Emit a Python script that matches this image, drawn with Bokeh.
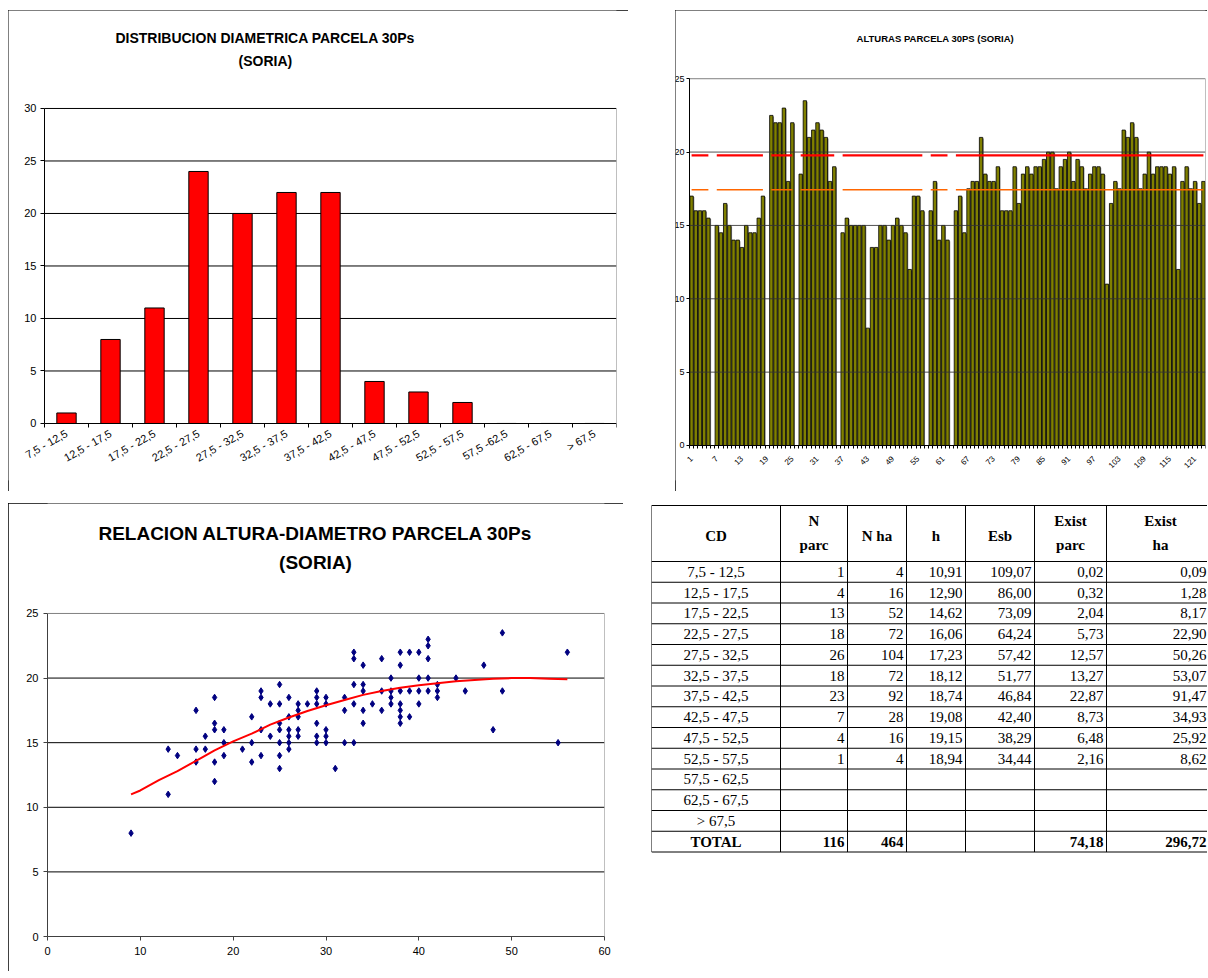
import math
from bokeh.plotting import figure
from bokeh.models import Range1d, FixedTicker, Spacer
from bokeh.layouts import row, column
from bokeh.embed import file_html
from bokeh.resources import INLINE
from bokeh.core.properties import value

# ---------------- data ----------------
dist_classes = ["7,5 - 12,5", "12,5 - 17,5", "17,5 - 22,5", "22,5 - 27,5", "27,5 - 32,5",
                "32,5 - 37,5", "37,5 - 42,5", "42,5 - 47,5", "47,5 - 52,5", "52,5 - 57,5",
                "57,5 -62,5", "62,5 - 67,5", "> 67,5"]
dist_counts = [1, 8, 11, 24, 20, 22, 22, 4, 3, 2, 0, 0, 0]

tree_heights = [17, 16, 16, 16, 15.5, 0, 15, 14.5, 16.5, 15,
                14, 14, 13.5, 15, 14.5, 14.5, 15.5, 17, 0, 22.5,
                22, 22, 23, 18, 22, 0, 18.5, 23.5, 21, 21.5,
                22, 21.5, 21, 18, 19, 0, 14.5, 15.5, 15, 15,
                15, 15, 8, 13.5, 13.5, 15, 15, 14, 15, 15.5,
                15, 14.5, 12, 17, 17, 16, 0, 16, 18, 14,
                15, 14, 0, 16, 17, 14.5, 17.5, 18, 18, 21,
                18.5, 18, 18, 19, 16, 16, 16, 19, 16.5, 18.5,
                19, 18.5, 19, 19, 19.5, 20, 20, 17.5, 19, 19.5,
                20, 18, 19.5, 19, 17.5, 18.5, 19, 19, 18.5, 11,
                16.5, 18, 17.5, 21.5, 21, 22, 21, 17.5, 18.5, 20,
                18.5, 19, 19, 19, 18.5, 19, 12, 18, 19, 17.5,
                18, 16.5, 18]
h_dominante = 19.77
h_media = 17.43
alt_tick_labels = ["1", "7", "13", "19", "25", "31", "37", "43", "49", "55", "61",
                   "67", "73", "79", "85", "91", "97", "103", "109", "115", "121"]

scatter_d = [9, 13, 13, 14, 16, 16, 16, 17, 17, 18, 18, 18, 18, 18, 19, 19, 19,
             21, 22, 22, 22, 23, 23, 23, 23, 24, 24,
             25, 25, 25, 25, 25, 25, 25, 26, 26, 26, 26, 26, 26,
             27, 27, 27, 27, 27, 28, 29, 29, 29, 29, 29, 29,
             30, 30, 30, 30, 30, 31, 32, 32, 32, 33, 33, 33, 33, 33,
             34, 34, 34, 34, 34, 35, 36, 36, 36, 37, 37, 37, 37,
             38, 38, 38, 38, 38, 38, 38, 39, 39, 39, 40, 40, 40, 40,
             41, 41, 41, 41, 41, 42, 42, 42, 44, 45, 47, 48, 49, 49, 55, 56]
scatter_h = [8, 14.5, 11, 14, 17.5, 14.5, 13.5, 15.5, 14.5, 18.5, 16.5, 16, 13.5, 12, 16, 15, 14,
             14.5, 17, 15, 13.5, 19, 18.5, 16, 14, 18, 15.5,
             19.5, 18, 16.5, 16, 15, 14, 13, 18.5, 17, 16, 15.5, 15, 14.5,
             18, 17.5, 17, 16, 15.5, 18, 19, 18.5, 18, 16.5, 15.5, 15,
             18.5, 18, 16, 15.5, 15, 13, 18.5, 17.5, 15, 22, 21.5, 19.5, 18, 15,
             21, 19.5, 19, 17.5, 16.5, 18, 21.5, 19, 17.5, 20, 19, 18.5, 18,
             22, 21, 19, 18, 17.5, 17, 16.5, 22, 19, 17, 22, 20, 19, 18,
             23, 22.5, 21.5, 20, 19, 19.5, 19, 18.5, 20, 19, 21, 16, 23.5, 19, 15, 22]

curve_d = [9, 10, 12, 14, 16, 18, 20, 22, 24, 26, 28, 30, 32, 34, 36, 38, 40, 42,
           44, 46, 48, 50, 52, 54, 56]
curve_h = [11.0, 11.3, 12.1, 12.8, 13.6, 14.4, 15.1, 15.7, 16.4, 16.95, 17.45, 17.9,
           18.3, 18.7, 19.0, 19.25, 19.45, 19.6, 19.75, 19.85, 19.95, 20.0, 20.0, 19.95, 19.9]

tbl_header1 = ["CD", "N", "N ha", "h", "Esb", "Exist", "Exist"]
tbl_header2 = ["", "parc", "", "", "", "parc", "ha"]
tbl_cd = ["7,5 - 12,5", "12,5 - 17,5", "17,5 - 22,5", "22,5 - 27,5", "27,5 - 32,5",
          "32,5 - 37,5", "37,5 - 42,5", "42,5 - 47,5", "47,5 - 52,5", "52,5 - 57,5",
          "57,5 - 62,5", "62,5 - 67,5", "> 67,5", "TOTAL"]
tbl_nparc = ["1", "4", "13", "18", "26", "18", "23", "7", "4", "1", "", "", "", "116"]
tbl_nha = ["4", "16", "52", "72", "104", "72", "92", "28", "16", "4", "", "", "", "464"]
tbl_h = ["10,91", "12,90", "14,62", "16,06", "17,23", "18,12", "18,74", "19,08", "19,15", "18,94", "", "", "", ""]
tbl_esb = ["109,07", "86,00", "73,09", "64,24", "57,42", "51,77", "46,84", "42,40", "38,29", "34,44", "", "", "", ""]
tbl_exparc = ["0,02", "0,32", "2,04", "5,73", "12,57", "13,27", "22,87", "8,73", "6,48", "2,16", "", "", "", "74,18"]
tbl_exha = ["0,09", "1,28", "8,17", "22,90", "50,26", "53,07", "91,47", "34,93", "25,92", "8,62", "", "", "", "296,72"]

title_A = ["DISTRIBUCION DIAMETRICA PARCELA 30Ps", "(SORIA)"]
title_B = ["ALTURAS PARCELA 30PS (SORIA)"]
title_C = ["RELACION ALTURA-DIAMETRO PARCELA 30Ps", "(SORIA)"]

SANS = "Liberation Sans"
SERIF = "Liberation Serif"
BORDER = {"outline": "1px solid black", "outline-offset": "-1px"}
FRAME_GRAY = "#808080"


def style_axis(ax, font_size, tick_color="black"):
    ax.axis_line_color = tick_color
    ax.major_tick_line_color = tick_color
    ax.major_label_text_font = SANS
    ax.major_label_text_font_size = font_size
    ax.major_label_text_color = "black"


# ---------------- chart A: distribucion diametrica ----------------
nA = len(dist_classes)
yA_ticks = [0, 5, 10, 15, 20, 25, 30]
yA_max = yA_ticks[-1]
pA = figure(width=620, height=481, x_range=Range1d(-0.818, nA), y_range=Range1d(-5.43, 39.33),
            output_backend="svg", toolbar_location=None,
            min_border_left=0, min_border_right=12, min_border_top=0, min_border_bottom=11)
centersA = [i + 0.5 for i in range(nA)]
gA = yA_ticks[1:]
pA.segment(x0=[0] * len(gA), x1=[nA] * len(gA), y0=gA, y1=gA, line_color="black", line_width=1)
pA.line(x=[nA, nA], y=[0, yA_max], line_color=FRAME_GRAY, line_width=1)
pA.vbar(x=centersA, top=dist_counts, width=0.44, fill_color="#FF0000",
        line_color="black", line_width=1)
pA.xaxis.fixed_location = 0
pA.xaxis.bounds = (0, nA)
pA.xaxis.ticker = FixedTicker(ticks=centersA, minor_ticks=list(range(nA + 1)))
pA.xaxis.major_label_overrides = {c: lab for c, lab in zip(centersA, dist_classes)}
pA.xaxis.major_tick_out = 0
pA.xaxis.major_tick_in = 0
pA.xaxis.minor_tick_out = 4
pA.xaxis.minor_tick_in = 0
pA.xaxis.minor_tick_line_color = "black"
pA.xaxis.major_label_orientation = 0.52
pA.xaxis.major_label_standoff = 5
pA.yaxis.fixed_location = 0
pA.yaxis.ticker = FixedTicker(ticks=yA_ticks)
pA.yaxis.bounds = (0, yA_max)
pA.yaxis.major_tick_out = 4
pA.yaxis.major_tick_in = 0
pA.yaxis.minor_tick_out = 0
pA.yaxis.major_label_standoff = 4
style_axis(pA.xaxis, "11px")
style_axis(pA.yaxis, "11px")
pA.grid.visible = False
pA.outline_line_color = None
pA.text(x=[5.02, 5.02], y=[36.67, 34.48], text=title_A, text_font=value(SANS),
        text_font_style="bold", text_font_size="14px", text_align="center",
        text_baseline="middle", text_color="black")
pA.styles = BORDER

# ---------------- chart B: alturas ----------------
nB = len(tree_heights)
yB_ticks = [0, 5, 10, 15, 20, 25]
yB_max = yB_ticks[-1]
posB = list(range(1, nB + 1))
bx = [x for x, h in zip(posB, tree_heights) if h > 0]
bh = [h for h in tree_heights if h > 0]
dom_line = [h_dominante if h > 0 else float("nan") for h in tree_heights]
med_line = [h_media if h > 0 else float("nan") for h in tree_heights]

pB = figure(width=532, height=481, x_range=Range1d(-2.837, nB + 0.5), y_range=Range1d(-2.386, 29.65),
            output_backend="svg", toolbar_location=None,
            min_border_left=0, min_border_right=2, min_border_top=0, min_border_bottom=11)
# soft grey shadow to the right of each bar (as in the spreadsheet chart)
pB.vbar(x=[x + 0.25 for x in bx], top=[h - 0.07 for h in bh], bottom=0, width=0.8,
        fill_color="#8c8c8c", line_color=None)
pB.vbar(x=bx, top=bh, width=0.8, fill_color="#808000", line_color="black", line_width=0.8)
gB = yB_ticks[1:-1]
pB.segment(x0=[0.5] * len(gB), x1=[nB + 0.5] * len(gB), y0=gB, y1=gB,
           line_color="#333333", line_width=1, line_alpha=0.85)
pB.line(x=[0.5, nB + 0.5, nB + 0.5], y=[yB_max, yB_max, 0], line_color=FRAME_GRAY, line_width=1)
pB.line(posB, dom_line, line_color="#FF0000", line_width=2.2)
pB.line(posB, med_line, line_color="#FF6600", line_width=1.6)
pB.xaxis.fixed_location = 0
pB.xaxis.bounds = (0.5, nB + 0.5)
pB.xaxis.ticker = FixedTicker(ticks=[int(t) for t in alt_tick_labels],
                              minor_ticks=[k + 0.5 for k in range(nB + 1)])
pB.xaxis.major_tick_out = 0
pB.xaxis.major_tick_in = 0
pB.xaxis.minor_tick_out = 3
pB.xaxis.minor_tick_in = 0
pB.xaxis.minor_tick_line_color = "black"
pB.xaxis.major_label_orientation = math.pi / 4
pB.xaxis.major_label_standoff = 9
pB.yaxis.fixed_location = 0.5
pB.yaxis.ticker = FixedTicker(ticks=yB_ticks)
pB.yaxis.bounds = (0, yB_max)
pB.yaxis.major_tick_out = 3
pB.yaxis.major_tick_in = 0
pB.yaxis.minor_tick_out = 0
pB.yaxis.major_label_standoff = 2
style_axis(pB.xaxis, "8px")
style_axis(pB.yaxis, "9px")
pB.grid.visible = False
pB.outline_line_color = None
pB.text(x=[59.1], y=[27.74], text=title_B, text_font=value(SANS),
        text_font_style="bold", text_font_size="9.5px", text_align="center",
        text_baseline="middle", text_color="black")
pB.styles = BORDER

# ---------------- chart C: relacion altura-diametro ----------------
yC_ticks = [0, 5, 10, 15, 20, 25]
yC_max = yC_ticks[-1]
pC = figure(width=615, height=468, x_range=Range1d(0, 60), y_range=Range1d(0, 33.51),
            output_backend="svg", toolbar_location=None,
            min_border_left=39, min_border_right=19, min_border_top=0, min_border_bottom=35)
gC = yC_ticks[1:-1]
pC.segment(x0=[0] * len(gC), x1=[60] * len(gC), y0=gC, y1=gC, line_color="black", line_width=1)
pC.line(x=[0, 60, 60], y=[yC_max, yC_max, 0], line_color=FRAME_GRAY, line_width=1)
pC.scatter(scatter_d, scatter_h, marker="diamond", size=6.5, fill_color="#000080",
           line_color="#000080")
pC.line(curve_d, curve_h, line_color="#FF0000", line_width=2)
pC.xaxis.ticker = FixedTicker(ticks=[0, 10, 20, 30, 40, 50, 60])
pC.yaxis.ticker = FixedTicker(ticks=yC_ticks)
pC.yaxis.bounds = (0, yC_max)
for ax in (pC.xaxis, pC.yaxis):
    style_axis(ax, "11px", "#404040")
    ax.major_tick_out = 4
    ax.major_tick_in = 0
    ax.minor_tick_out = 0
pC.xaxis.major_label_standoff = 6
pC.yaxis.major_label_standoff = 5
pC.grid.visible = False
pC.outline_line_color = None
pC.text(x=[28.87, 28.87], y=[31.19, 28.95], text=title_C, text_font=value(SANS),
        text_font_style="bold", text_font_size="19px", text_align="center",
        text_baseline="middle", text_color="black")
pC.styles = BORDER

# ---------------- table ----------------
X0, X1, Y0, Y1 = 651, 1207, 503, 855
col_edges = [651, 780, 847, 906, 965, 1034, 1106, 1210]
head_top, head_bot, row_h = 505, 561, 20.75
nrows = len(tbl_cd)
row_edges = [head_top, head_bot] + [head_bot + row_h * (k + 1) for k in range(nrows)]
tbl_bottom = row_edges[-1]

pD = figure(width=X1 - X0, height=(Y1 - Y0) + 35, x_range=Range1d(X0, X1), y_range=Range1d(Y1, Y0),
            output_backend="svg", toolbar_location=None,
            min_border_left=0, min_border_right=0, min_border_top=0, min_border_bottom=35)
pD.axis.visible = False
pD.grid.visible = False
pD.outline_line_color = None
pD.segment(x0=[col_edges[0]] * len(row_edges), x1=[col_edges[-1]] * len(row_edges),
           y0=row_edges, y1=row_edges, line_color="black", line_width=1)
pD.segment(x0=col_edges, x1=col_edges, y0=[head_top] * len(col_edges),
           y1=[tbl_bottom] * len(col_edges), line_color="black", line_width=1)

col_centers = [(a + b) / 2 for a, b in zip(col_edges[:-1], col_edges[1:])]
col_centers[-1] = 1160
hdr_mid = (head_top + head_bot) / 2
hx, hy, ht = [], [], []
for c, t1, t2 in zip(col_centers, tbl_header1, tbl_header2):
    if t2:
        hx += [c, c]
        hy += [hdr_mid - 13, hdr_mid + 11]
        ht += [t1, t2]
    else:
        hx.append(c)
        hy.append(hdr_mid + 2)
        ht.append(t1)
pD.text(x=hx, y=hy, text=ht, text_font=value(SERIF), text_font_style="bold",
        text_font_size="15px", text_align="center", text_baseline="middle", text_color="black")

row_mid = [head_bot + row_h * (k + 0.5) for k in range(nrows)]
pD.text(x=[col_centers[0]] * (nrows - 1), y=row_mid[:-1], text=tbl_cd[:-1],
        text_font=value(SERIF), text_font_size="15px", text_align="center",
        text_baseline="middle", text_color="black")
pD.text(x=[col_centers[0]], y=row_mid[-1:], text=tbl_cd[-1:],
        text_font=value(SERIF), text_font_style="bold", text_font_size="15px",
        text_align="center", text_baseline="middle", text_color="black")
num_cols = [tbl_nparc, tbl_nha, tbl_h, tbl_esb, tbl_exparc, tbl_exha]
for ci, colvals in enumerate(num_cols):
    right = col_edges[ci + 2] - 3 if ci < 5 else 1206
    pD.text(x=[right] * (nrows - 1), y=row_mid[:-1], text=colvals[:-1],
            text_font=value(SERIF), text_font_size="15px", text_align="right",
            text_baseline="middle", text_color="black")
    pD.text(x=[right], y=row_mid[-1:], text=colvals[-1:],
            text_font=value(SERIF), text_font_style="bold", text_font_size="15px",
            text_align="right", text_baseline="middle", text_color="black")

layout = column(Spacer(height=10),
                row(Spacer(width=8), pA, Spacer(width=47), pB),
                Spacer(height=12),
                row(Spacer(width=8), pC, Spacer(width=28), pD))

open("out.html", "w").write(file_html(layout, INLINE))
